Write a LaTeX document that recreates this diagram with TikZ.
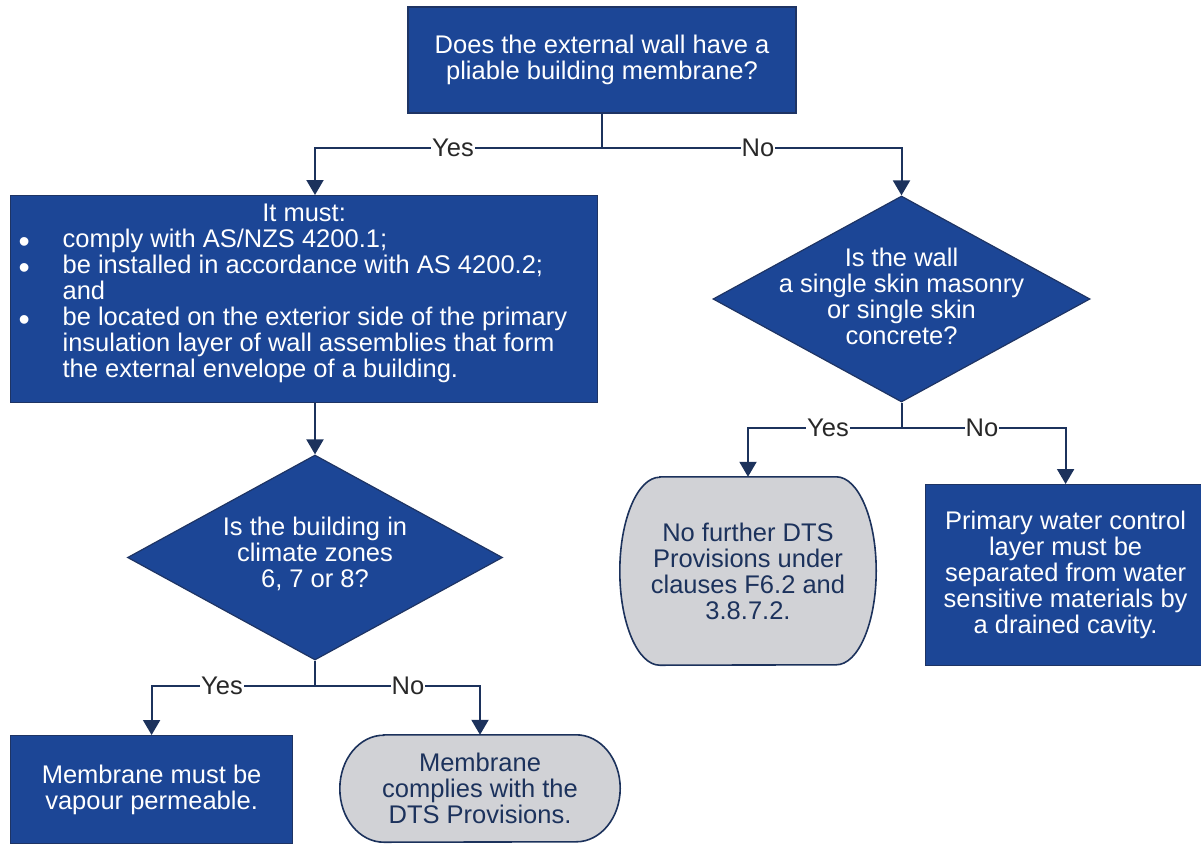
\documentclass[tikz,border=0pt]{standalone}
\usepackage{fontspec}
\setmainfont{Liberation Sans}
\usetikzlibrary{shapes.geometric,arrows.meta,calc,backgrounds}
\definecolor{boxblue}{RGB}{28,70,150}
\definecolor{boxline}{RGB}{30,52,100}
\definecolor{navy}{RGB}{28,50,92}
\definecolor{boxgray}{RGB}{209,210,214}
\definecolor{labtext}{RGB}{40,40,40}
\newcommand{\bigbul}{\makebox[44pt][l]{\smash{\raisebox{-5pt}{\fontsize{32}{26}\selectfont\textbullet}}}}
\tikzset{
  basefont/.style={font=\fontsize{25.5}{26}\selectfont},
  bluebox/.style={rectangle, draw=boxline, fill=boxblue, text=white, line width=1.2pt, align=center, inner sep=0pt, basefont},
  bluediam/.style={diamond, draw=boxline, fill=boxblue, line width=1.2pt, inner sep=0pt},
  diamtext/.style={text=white, align=center, inner sep=0pt, basefont},
  grayshape/.style={rectangle, draw=none, text=navy, align=center, inner sep=0pt, basefont},
  grayoutline/.style={draw=navy, fill=boxgray, line width=1.6pt},
  conn/.style={draw=navy, line width=2pt},
  arr/.style={conn, -{Triangle[width=17pt,length=15pt]}},
  lab/.style={fill=white, text=labtext, inner xsep=1pt, inner ysep=1pt, basefont},
}
\begin{document}
\begin{tikzpicture}[x=1pt,y=-1pt]
\useasboundingbox (0,0) rectangle (1201,844);
% boxes
\node[bluebox, minimum width=388pt, minimum height=106pt] (top) at (602,60)
  {Does the external wall have a\\pliable building membrane?};
\node[bluebox, anchor=north west, minimum width=587pt, minimum height=207pt] (must) at (10,195)
  {\parbox[c][207pt][t]{587pt}{\vspace*{8pt}\centering It must:\par\raggedright
  \hspace*{8pt}\bigbul comply with AS/NZS 4200.1;\par
  \hspace*{8pt}\bigbul be installed in accordance with AS 4200.2;\par
  \hspace*{52pt}and\par
  \hspace*{8pt}\bigbul be located on the exterior side of the primary\par
  \hspace*{52pt}insulation layer of wall assemblies that form\par
  \hspace*{52pt}the external envelope of a building.\par}};
\node[bluediam, minimum width=375pt, minimum height=205pt] (d1) at (315,557.5) {};
\node[diamtext] (d1t) at ([yshift=4pt]d1.center) {Is the building in\\climate zones\\6, 7 or 8?};
\node[bluediam, minimum width=377pt, minimum height=206pt] (d2) at (901.5,299) {};
\node[diamtext] (d2t) at ([yshift=3pt]d2.center) {Is the wall\\a single skin masonry\\or single skin\\concrete?};
\node[bluebox, anchor=north west, minimum width=282pt, minimum height=108pt] (v1) at (10,735)
  {Membrane must be\\vapour permeable.};
\node[grayshape, minimum width=280pt, minimum height=107pt] (g1) at (480,788.5)
  {Membrane\\complies with the\\DTS Provisions.};
\node[grayshape, minimum width=256pt, minimum height=188pt] (g2) at (748,571)
  {No further DTS\\Provisions under\\clauses F6.2 and\\3.8.7.2.};
\node[bluebox, anchor=north west, minimum width=280pt, minimum height=181pt] (b2) at (925,484)
  {Primary water control\\layer must be\\separated from water\\sensitive materials by\\a drained cavity.};
\begin{scope}[on background layer]
\draw[grayoutline] ($(g2.north west)+(40,0)$) -- ($(g2.north east)+(-40,0)$)
  arc[start angle=90,end angle=-90,x radius=40pt,y radius=94pt]
  -- ($(g2.south west)+(40,0)$)
  arc[start angle=270,end angle=90,x radius=40pt,y radius=94pt] -- cycle;
\draw[grayoutline] ($(g1.north west)+(44,0)$) -- ($(g1.north east)+(-44,0)$)
  arc[start angle=90,end angle=-90,x radius=44pt,y radius=53.5pt]
  -- ($(g1.south west)+(44,0)$)
  arc[start angle=270,end angle=90,x radius=44pt,y radius=53.5pt] -- cycle;
\end{scope}
% junctions
\coordinate (j1) at (602,148);
\coordinate (j2) at (315,686);
\coordinate (j3) at (901.5,428);
% connectors
\draw[conn] (top.south) -- (j1);
\draw[arr] (j1) -| (d1.north |- must.north);
\draw[arr] (j1) -| (d2.north);
\draw[arr] (d1.north |- must.south) -- (d1.north);
\draw[conn] (d1.south) -- (j2);
\draw[arr] (j2) -| (v1.north);
\draw[arr] (j2) -| (g1.north);
\draw[conn] (d2.south) -- (j3);
\draw[arr] (j3) -| (g2.north);
\draw[arr] (j3) -| (b2.north);
% labels
\node[lab] (l1) at (453,148) {Yes};
\node[lab] (l2) at (758,148) {No};
\node[lab] (l3) at (222,686) {Yes};
\node[lab] (l4) at (408,686) {No};
\node[lab] (l5) at (828,428) {Yes};
\node[lab] (l6) at (982,428) {No};
\end{tikzpicture}
\end{document}
